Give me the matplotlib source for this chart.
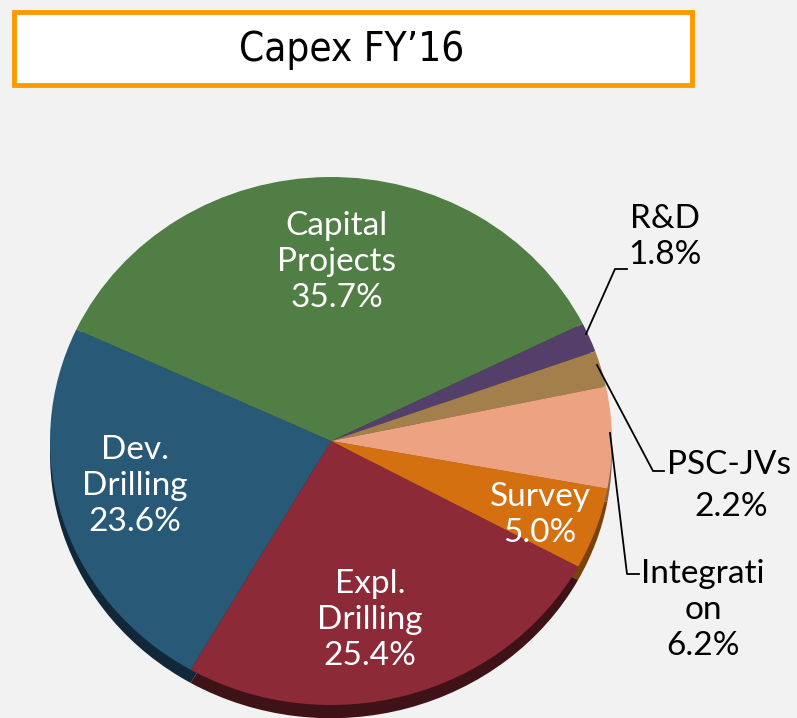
import matplotlib.pyplot as plt
from matplotlib.patches import Rectangle

# data
labels = ['Capital\nProjects', 'R&D', 'PSC-JVs', 'Integrati\non', 'Survey', 'Expl.\nDrilling', 'Dev.\nDrilling']
shares = [35.7, 1.8, 2.2, 6.2, 5.0, 25.4, 23.6]
colors = ['#507E44', '#543F6A', '#A3804B', '#EDA282', '#D4700F', '#8C2A38', '#285A78']
rim_colors = ['#2E4A27', '#31253F', '#5E4A2B', '#8A5E4B', '#7A4109', '#3E1217', '#10283A']

W, H = 797, 718
fig = plt.figure(figsize=(W / 100, H / 100), dpi=100, facecolor='#F2F2F2')

# pie axes: ellipse centre (331, 441) px, radii 281 x 264 px
cx, cy, rx, ry = 331, 441, 281, 264
ax = fig.add_axes([0, 0, 1, 1])
ax.set_facecolor('none')
ax.pie(shares, colors=rim_colors, startangle=155, counterclock=False,
       center=(0, -0.05), wedgeprops=dict(linewidth=0))
ax.pie(shares, colors=colors, startangle=155, counterclock=False,
       wedgeprops=dict(linewidth=0))
ax.set_aspect('auto')
ax.set_xlim(-cx / rx, (W - cx) / rx)
ax.set_ylim(-(H - cy) / ry, cy / ry)
ax.axis('off')

# overlay in pixel coordinates for title, labels and leader lines
ov = fig.add_axes([0, 0, 1, 1])
ov.set_xlim(0, W)
ov.set_ylim(H, 0)
ov.axis('off')
ov.patch.set_alpha(0)

ov.add_patch(Rectangle((14, 12), 678, 73, facecolor='white', edgecolor='#FF9900', linewidth=3.5))
ov.text(352, 50, 'Capex FY’16', ha='center', va='center', fontsize=29,
        family='DejaVu Sans', fontstretch='condensed', color='black')

lab_font = dict(fontsize=24, family=['Lato', 'DejaVu Sans'], va='center', linespacing=1.25)

# labels inside slices
ov.text(337, 262, labels[0] + '\n35.7%', color='white', ha='center', **lab_font)
ov.text(135, 486, labels[6] + '\n23.6%', color='white', ha='center', **lab_font)
ov.text(370, 620, labels[5] + '\n25.4%', color='white', ha='center', **lab_font)
ov.text(540, 515, labels[4] + '\n5.0%', color='white', ha='center', **lab_font)

# outside labels
ov.text(665, 237, labels[1] + '\n1.8%', color='black', ha='center', **lab_font)
ov.text(667, 465, labels[2], color='black', ha='left', **lab_font)
ov.text(768, 507, '2.2%', color='black', ha='right', **lab_font)
ov.text(703, 610, labels[3] + '\n6.2%', color='black', ha='center', **lab_font)

# leader lines
ov.plot([586, 615, 627], [334, 269, 269], color='black', lw=1.3)
ov.plot([597, 653, 664], [365, 471, 471], color='black', lw=1.3)
ov.plot([610, 627, 639], [433, 574, 574], color='black', lw=1.3)

fig.savefig('out.png', dpi=100, facecolor=fig.get_facecolor())
